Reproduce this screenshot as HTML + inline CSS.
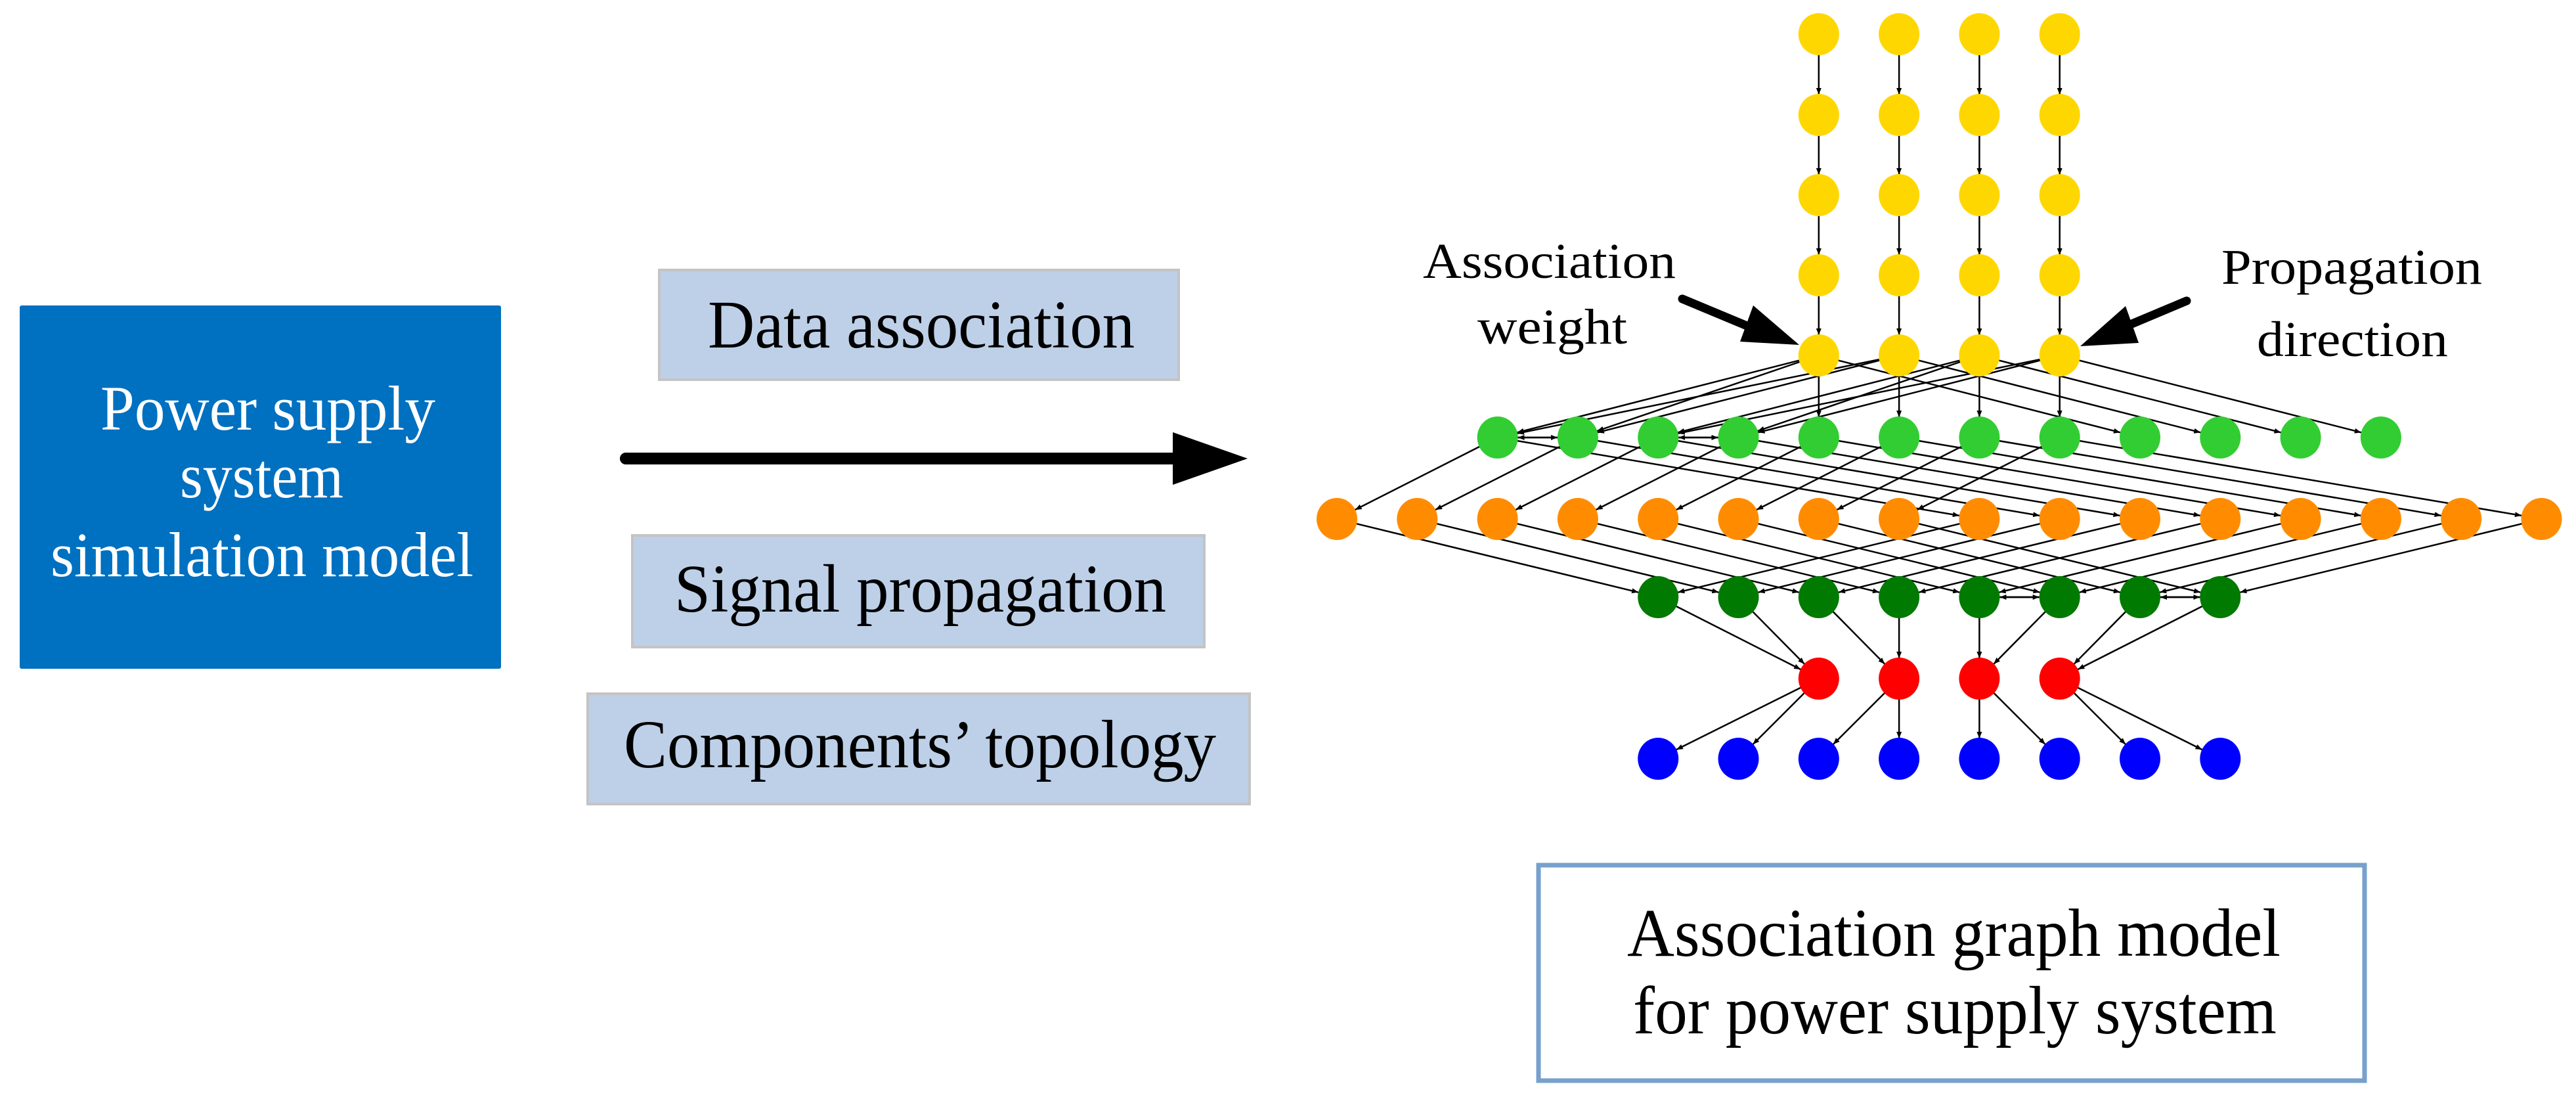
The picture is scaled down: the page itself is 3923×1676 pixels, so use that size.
<!DOCTYPE html>
<html><head><meta charset="utf-8"><style>
html,body{margin:0;padding:0;background:#fff;}
svg{display:block;font-family:"Liberation Serif",serif;}
</style></head><body>
<svg id="s" width="3923" height="1676" viewBox="0 0 3923 1676" xmlns="http://www.w3.org/2000/svg">
<defs>
<marker id="a" markerWidth="10" markerHeight="8" refX="10" refY="4" orient="auto" markerUnits="userSpaceOnUse"><path d="M0,0 L10,4 L0,8 z" fill="#000"/></marker>
</defs>
<rect x="30" y="465" width="733" height="553" fill="#0070C0" rx="3"/>
<g fill="#fff" font-size="96">
<text x="153" y="654" textLength="510" lengthAdjust="spacingAndGlyphs">Power supply</text>
<text x="274" y="757" textLength="249" lengthAdjust="spacingAndGlyphs">system</text>
<text x="77" y="877" textLength="644" lengthAdjust="spacingAndGlyphs">simulation model</text>
</g>
<g fill="#BDD0E8" stroke="#c4c4c4" stroke-width="4">
<rect x="1004" y="411" width="791" height="167"/>
<rect x="963" y="815" width="871" height="170"/>
<rect x="895" y="1056" width="1008" height="168"/>
</g>
<g fill="#000" font-size="104">
<text x="1078" y="529" textLength="650" lengthAdjust="spacingAndGlyphs">Data association</text>
<text x="1027" y="931" textLength="749" lengthAdjust="spacingAndGlyphs">Signal propagation</text>
<text x="950" y="1168" textLength="902" lengthAdjust="spacingAndGlyphs">Components’ topology</text>
</g>
<line x1="953" y1="698" x2="1800" y2="698" stroke="#000" stroke-width="18" stroke-linecap="round"/>
<path d="M1786,658 L1900,698 L1786,738 z" fill="#000"/>
<rect x="2343" y="1317" width="1258" height="328" fill="#fff" stroke="#77A0CC" stroke-width="7"/>
<g fill="#000" font-size="104">
<text x="2478" y="1455" textLength="995" lengthAdjust="spacingAndGlyphs">Association graph model</text>
<text x="2487" y="1573" textLength="980" lengthAdjust="spacingAndGlyphs">for power supply system</text>
</g>
<g fill="#000" font-size="76">
<text x="2167" y="423" textLength="385" lengthAdjust="spacingAndGlyphs">Association</text>
<text x="2250" y="523" textLength="228" lengthAdjust="spacingAndGlyphs">weight</text>
<text x="3383" y="432" textLength="397" lengthAdjust="spacingAndGlyphs">Propagation</text>
<text x="3437" y="542" textLength="291" lengthAdjust="spacingAndGlyphs">direction</text>
</g>
<line x1="2562" y1="455" x2="2670" y2="500" stroke="#000" stroke-width="13" stroke-linecap="round"/>
<path d="M2740,525 L2650,520 L2670,465 z" fill="#000"/>
<line x1="3330" y1="458" x2="3230" y2="500" stroke="#000" stroke-width="13" stroke-linecap="round"/>
<path d="M3168,527 L3237,466 L3257,522 z" fill="#000"/>
<g id="edges" stroke="#000" stroke-width="2.5" fill="none" marker-end="url(#a)"></g>
<g id="nodes"></g>
</svg>
<script>
var X=function(i){return 2036+122.3*i;};
var R=31, NS="http://www.w3.org/2000/svg";
var e=document.getElementById('edges'), n=document.getElementById('nodes');
function edge(x1,y1,x2,y2){var dx=x2-x1,dy=y2-y1,l=Math.sqrt(dx*dx+dy*dy);
 var L=document.createElementNS(NS,'line');
 L.setAttribute('x1',x1+dx/l*R);L.setAttribute('y1',y1+dy/l*R);
 L.setAttribute('x2',x2-dx/l*R);L.setAttribute('y2',y2-dy/l*R);e.appendChild(L);}
function node(x,y,c){var C=document.createElementNS(NS,'ellipse');C.setAttribute('cx',x);C.setAttribute('cy',y);C.setAttribute('rx',31);C.setAttribute('ry',32);C.setAttribute('fill',c);n.appendChild(C);}
var yr=[52,175,297,419,541], G=666,O=790,D=909,Rd=1033,B=1155;
for(var i=6;i<=9;i++){for(var r=0;r<4;r++)edge(X(i),yr[r],X(i),yr[r+1]);
 edge(X(i),yr[4],X(i),G); edge(X(i),yr[4],X(i+4),G);}
edge(X(6),yr[4],X(2),G);edge(X(7),yr[4],X(2),G);edge(X(6),yr[4],X(3),G);edge(X(7),yr[4],X(3),G);
edge(X(8),yr[4],X(4),G);edge(X(9),yr[4],X(4),G);edge(X(8),yr[4],X(5),G);edge(X(9),yr[4],X(5),G);
edge(X(2),G,X(3),G);edge(X(3),G,X(2),G);edge(X(4),G,X(5),G);edge(X(5),G,X(4),G);
for(var i=2;i<=9;i++){edge(X(i),G,X(i-2),O);edge(X(i),G,X(i+6),O);}
for(var i=0;i<8;i++)edge(X(i),O,X(i+4),D);
for(var i=8;i<16;i++)edge(X(i),O,X(i-4),D);
edge(X(8),D,X(9),D);edge(X(9),D,X(8),D);edge(X(10),D,X(11),D);edge(X(11),D,X(10),D);
var dm=[6,6,7,7,8,8,9,9];
for(var k=0;k<8;k++)edge(X(4+k),D,X(dm[k]),Rd);
for(var k=0;k<8;k++)edge(X(dm[k]),Rd,X(4+k),B);
for(var i=6;i<=9;i++)for(var r=0;r<5;r++)node(X(i),yr[r],'#FFD700');
for(var i=2;i<=13;i++)node(X(i),G,'#32CD32');
for(var i=0;i<16;i++)node(X(i),O,'#FF8C00');
for(var i=4;i<=11;i++){node(X(i),D,'#007A00');node(X(i),B,'#0000FF');}
for(var i=6;i<=9;i++)node(X(i),Rd,'#FF0000');
</script>
</body></html>
